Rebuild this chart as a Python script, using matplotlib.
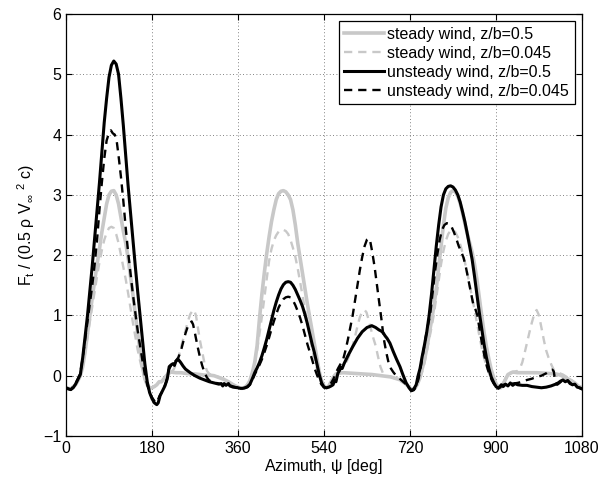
import matplotlib
matplotlib.use("Agg")
import matplotlib.pyplot as plt

plt.rcParams['font.family'] = ['Liberation Sans', 'DejaVu Sans']
plt.rcParams['mathtext.fontset'] = 'custom'
plt.rcParams['mathtext.rm'] = 'Liberation Sans'
plt.rcParams['mathtext.it'] = 'Liberation Sans'

# ---------------- data: (azimuth [deg], F_t normalised) ----------------
steady_05 = [
    (0, -0.20), (10, -0.22), (20, -0.15), (25, -0.08), (30, 0.00), (35, 0.15), (40, 0.40), (45, 0.70),
    (50, 1.00), (55, 1.30), (60, 1.58), (65, 1.85), (70, 2.10), (75, 2.38), (80, 2.62), (85, 2.85),
    (90, 3.00), (95, 3.06), (100, 3.07), (105, 3.00), (110, 2.85), (115, 2.62), (120, 2.40), (125, 2.20),
    (130, 1.95), (135, 1.65), (140, 1.35), (145, 1.02), (150, 0.70), (155, 0.42), (160, 0.15), (165, -0.05),
    (170, -0.15), (175, -0.20), (180, -0.20), (185, -0.18), (190, -0.15), (195, -0.10), (200, -0.10),
    (205, -0.05), (210, 0.00), (215, 0.04), (220, 0.06), (230, 0.05), (240, 0.05), (250, 0.04), (260, 0.03),
    (270, 0.03), (280, 0.02), (290, 0.01), (300, 0.01), (310, 0.00), (320, -0.03), (330, -0.06),
    (340, -0.10), (350, -0.15), (360, -0.19), (368, -0.21), (375, -0.19), (380, -0.15), (385, -0.08),
    (390, 0.05), (395, 0.22), (400, 0.50), (405, 0.95), (410, 1.35), (415, 1.70), (420, 2.02), (425, 2.30),
    (430, 2.55), (435, 2.75), (440, 2.92), (445, 3.02), (450, 3.06), (455, 3.07), (460, 3.05), (465, 3.00),
    (470, 2.92), (475, 2.75), (480, 2.50), (485, 2.20), (490, 1.95), (495, 1.70), (500, 1.45), (505, 1.20),
    (510, 0.98), (515, 0.75), (520, 0.52), (525, 0.30), (530, 0.07), (535, -0.08), (540, -0.17),
    (545, -0.20), (550, -0.17), (555, -0.10), (560, -0.02), (565, 0.03), (570, 0.04), (580, 0.05),
    (600, 0.04), (620, 0.03), (640, 0.02), (660, 0.00), (680, -0.02), (700, -0.07), (710, -0.12),
    (718, -0.19), (724, -0.23), (730, -0.21), (735, -0.15), (740, -0.05), (745, 0.10), (750, 0.25),
    (755, 0.45), (760, 0.68), (765, 0.90), (770, 1.15), (775, 1.45), (780, 1.80), (785, 2.15), (790, 2.50),
    (795, 2.78), (800, 2.95), (805, 3.04), (810, 3.07), (815, 3.05), (820, 2.98), (825, 2.86), (830, 2.70),
    (835, 2.52), (840, 2.35), (845, 2.20), (850, 2.05), (855, 1.85), (860, 1.60), (865, 1.30), (870, 1.00),
    (875, 0.72), (880, 0.48), (885, 0.28), (890, 0.10), (895, -0.03), (900, -0.13), (905, -0.19),
    (910, -0.20), (915, -0.14), (920, -0.06), (925, 0.02), (935, 0.06), (945, 0.05), (965, 0.05),
    (985, 0.05), (1005, 0.04), (1025, 0.03), (1035, 0.01), (1045, -0.03), (1055, -0.07), (1065, -0.12),
    (1072, -0.17), (1080, -0.20)]

steady_045 = [
    (0, -0.20), (10, -0.22), (20, -0.15), (25, -0.08), (30, 0.00), (35, 0.15), (40, 0.38), (45, 0.65),
    (50, 0.90), (55, 1.15), (60, 1.40), (65, 1.65), (70, 1.88), (75, 2.08), (80, 2.25), (85, 2.37),
    (90, 2.45), (95, 2.47), (100, 2.45), (105, 2.35), (110, 2.20), (115, 2.00), (120, 1.80), (125, 1.60),
    (130, 1.37), (135, 1.12), (140, 0.88), (145, 0.65), (150, 0.43), (155, 0.25), (160, 0.08), (165, -0.05),
    (170, -0.14), (175, -0.19), (180, -0.20), (185, -0.18), (190, -0.15), (195, -0.12), (200, -0.10),
    (205, -0.05), (210, 0.00), (215, 0.04), (220, 0.06), (225, 0.10), (230, 0.18), (235, 0.30), (240, 0.45),
    (245, 0.60), (250, 0.75), (255, 0.90), (260, 1.02), (265, 1.08), (268, 1.09), (272, 1.00), (276, 0.80),
    (280, 0.60), (285, 0.40), (290, 0.20), (295, 0.08), (300, 0.03), (310, 0.00), (320, -0.02),
    (330, -0.05), (340, -0.10), (350, -0.15), (360, -0.19), (368, -0.21), (375, -0.19), (380, -0.14),
    (385, -0.06), (390, 0.05), (395, 0.20), (400, 0.42), (405, 0.70), (410, 0.98), (415, 1.28), (420, 1.60),
    (425, 1.90), (430, 2.10), (435, 2.24), (440, 2.33), (445, 2.39), (450, 2.42), (455, 2.42), (460, 2.40),
    (465, 2.35), (470, 2.25), (475, 2.12), (480, 1.97), (485, 1.78), (490, 1.56), (495, 1.33), (500, 1.10),
    (505, 0.88), (510, 0.66), (515, 0.46), (520, 0.28), (525, 0.12), (530, 0.00), (535, -0.10),
    (540, -0.17), (545, -0.20), (550, -0.16), (555, -0.09), (560, -0.02), (565, 0.04), (570, 0.07),
    (575, 0.10), (580, 0.14), (585, 0.20), (590, 0.28), (595, 0.38), (600, 0.50), (605, 0.65), (610, 0.82),
    (615, 0.97), (620, 1.06), (625, 1.09), (629, 1.05), (633, 0.94), (638, 0.78), (643, 0.63), (648, 0.50),
    (653, 0.32), (658, 0.15), (663, 0.05), (670, 0.00), (680, -0.02), (690, -0.05), (700, -0.09),
    (710, -0.14), (718, -0.20), (724, -0.23), (730, -0.20), (735, -0.14), (740, -0.06), (745, 0.05),
    (750, 0.20), (755, 0.40), (760, 0.60), (765, 0.80), (770, 1.02), (775, 1.30), (780, 1.58), (785, 1.85),
    (790, 2.07), (795, 2.24), (800, 2.35), (805, 2.41), (810, 2.42), (815, 2.38), (820, 2.30), (825, 2.18),
    (830, 2.04), (835, 1.88), (840, 1.70), (845, 1.50), (850, 1.30), (855, 1.10), (860, 0.88), (865, 0.67),
    (870, 0.47), (875, 0.30), (880, 0.16), (885, 0.05), (890, -0.05), (895, -0.12), (900, -0.17),
    (905, -0.20), (910, -0.19), (915, -0.12), (920, -0.04), (925, 0.02), (930, 0.05), (935, 0.06),
    (940, 0.07), (945, 0.08), (950, 0.12), (955, 0.22), (960, 0.38), (965, 0.55), (970, 0.72), (975, 0.88),
    (980, 1.02), (985, 1.09), (989, 1.02), (993, 0.88), (997, 0.72), (1001, 0.56), (1005, 0.42),
    (1010, 0.30), (1016, 0.18), (1022, 0.08), (1030, 0.05), (1040, 0.02), (1050, -0.03), (1060, -0.09),
    (1070, -0.15), (1080, -0.20)]

unsteady_05 = [
    (0, -0.20), (5, -0.22), (10, -0.23), (15, -0.20), (20, -0.14), (25, -0.06), (30, 0.02), (35, 0.30),
    (40, 0.65), (45, 1.00), (50, 1.42), (55, 1.83), (60, 2.28), (65, 2.72), (70, 3.20), (75, 3.70),
    (80, 4.20), (85, 4.60), (90, 4.95), (95, 5.15), (100, 5.22), (105, 5.17), (110, 5.00), (115, 4.60),
    (120, 4.15), (125, 3.65), (130, 3.15), (135, 2.70), (140, 2.25), (145, 1.82), (150, 1.40), (155, 1.00),
    (160, 0.60), (165, 0.20), (170, -0.10), (175, -0.28), (180, -0.38), (185, -0.45), (190, -0.48),
    (193, -0.45), (197, -0.33), (202, -0.25), (207, -0.17), (212, -0.05), (216, 0.15), (220, 0.18),
    (224, 0.20), (227, 0.17), (230, 0.24), (235, 0.27), (240, 0.22), (245, 0.16), (250, 0.11), (260, 0.05),
    (270, 0.00), (280, -0.04), (290, -0.07), (300, -0.10), (310, -0.12), (320, -0.14), (325, -0.13),
    (328, -0.17), (331, -0.13), (335, -0.16), (340, -0.13), (343, -0.17), (350, -0.19), (360, -0.20),
    (365, -0.21), (370, -0.21), (375, -0.20), (380, -0.18), (385, -0.14), (390, -0.05), (395, 0.05),
    (400, 0.13), (405, 0.22), (410, 0.33), (415, 0.46), (420, 0.60), (425, 0.76), (430, 0.92), (435, 1.08),
    (440, 1.22), (445, 1.34), (450, 1.44), (455, 1.51), (460, 1.55), (465, 1.56), (470, 1.55), (475, 1.50),
    (480, 1.43), (485, 1.34), (490, 1.25), (495, 1.15), (500, 1.02), (505, 0.87), (510, 0.70), (515, 0.53),
    (520, 0.38), (525, 0.20), (530, 0.02), (535, -0.12), (540, -0.19), (545, -0.20), (550, -0.19),
    (555, -0.17), (559, -0.15), (562, -0.08), (565, -0.10), (569, 0.04), (572, 0.08), (575, 0.14),
    (578, 0.12), (582, 0.20), (590, 0.33), (600, 0.48), (610, 0.62), (620, 0.73), (630, 0.80), (640, 0.83),
    (648, 0.80), (655, 0.76), (660, 0.74), (664, 0.71), (668, 0.66), (672, 0.62), (678, 0.54), (685, 0.40),
    (692, 0.27), (699, 0.15), (705, 0.02), (712, -0.12), (718, -0.20), (723, -0.25), (728, -0.22),
    (733, -0.15), (737, 0.00), (741, 0.12), (745, 0.30), (750, 0.50), (755, 0.72), (760, 1.00), (765, 1.35),
    (770, 1.75), (775, 2.15), (780, 2.50), (785, 2.80), (790, 3.00), (795, 3.10), (800, 3.14), (805, 3.15),
    (810, 3.13), (815, 3.08), (820, 3.00), (825, 2.88), (830, 2.72), (835, 2.55), (840, 2.35), (845, 2.14),
    (850, 1.93), (855, 1.65), (860, 1.35), (865, 1.05), (870, 0.78), (875, 0.52), (880, 0.30), (885, 0.12),
    (890, -0.02), (895, -0.11), (900, -0.18), (905, -0.21), (908, -0.18), (911, -0.15), (915, -0.18),
    (920, -0.14), (925, -0.17), (930, -0.12), (935, -0.16), (940, -0.13), (945, -0.15), (955, -0.16),
    (965, -0.16), (975, -0.18), (985, -0.19), (995, -0.20), (1005, -0.19), (1015, -0.17), (1025, -0.14),
    (1030, -0.12), (1035, -0.09), (1040, -0.07), (1045, -0.10), (1050, -0.08), (1055, -0.13),
    (1060, -0.15), (1065, -0.14), (1070, -0.19), (1075, -0.20), (1080, -0.22)]

unsteady_045 = [
    (0, -0.20), (10, -0.23), (20, -0.13), (25, -0.05), (30, 0.05), (35, 0.30), (40, 0.60), (45, 0.90),
    (50, 1.20), (55, 1.50), (60, 1.85), (65, 2.25), (70, 2.75), (75, 3.20), (80, 3.60), (85, 3.90),
    (90, 4.03), (94, 4.07), (98, 4.02), (102, 4.00), (106, 3.90), (110, 3.65), (115, 3.30), (120, 2.90),
    (125, 2.45), (130, 2.05), (135, 1.70), (140, 1.35), (145, 1.05), (150, 0.75), (155, 0.50), (160, 0.25),
    (165, 0.02), (170, -0.15), (175, -0.28), (180, -0.36), (185, -0.42), (190, -0.45), (195, -0.35),
    (200, -0.28), (205, -0.20), (210, -0.10), (215, 0.10), (220, 0.17), (225, 0.20), (230, 0.25),
    (235, 0.30), (240, 0.40), (245, 0.55), (250, 0.70), (255, 0.82), (260, 0.88), (263, 0.90), (266, 0.85),
    (270, 0.70), (275, 0.50), (280, 0.32), (285, 0.17), (290, 0.05), (295, -0.03), (300, -0.08),
    (310, -0.11), (320, -0.13), (330, -0.15), (340, -0.15), (350, -0.18), (360, -0.20), (370, -0.21),
    (380, -0.19), (385, -0.15), (390, -0.07), (395, 0.02), (400, 0.10), (405, 0.18), (410, 0.27),
    (415, 0.38), (420, 0.50), (425, 0.63), (430, 0.77), (435, 0.90), (440, 1.02), (445, 1.13), (450, 1.21),
    (455, 1.27), (460, 1.30), (465, 1.31), (470, 1.30), (475, 1.25), (480, 1.17), (485, 1.07), (490, 0.96),
    (495, 0.83), (500, 0.68), (505, 0.53), (510, 0.40), (515, 0.27), (520, 0.13), (525, 0.02), (530, -0.08),
    (535, -0.15), (540, -0.19), (545, -0.20), (550, -0.17), (555, -0.12), (560, -0.05), (565, 0.05),
    (570, 0.13), (575, 0.20), (580, 0.27), (585, 0.42), (590, 0.60), (595, 0.80), (600, 1.00), (605, 1.25),
    (610, 1.50), (615, 1.75), (620, 1.97), (625, 2.15), (630, 2.26), (633, 2.28), (637, 2.22), (641, 2.05),
    (646, 1.80), (650, 1.55), (655, 1.25), (660, 0.95), (665, 0.62), (670, 0.40), (675, 0.22), (680, 0.12),
    (685, 0.06), (690, 0.01), (700, -0.06), (710, -0.13), (718, -0.20), (723, -0.25), (728, -0.24),
    (733, -0.18), (738, -0.05), (742, 0.12), (747, 0.35), (752, 0.60), (757, 0.82), (762, 1.00), (767, 1.35),
    (772, 1.70), (777, 2.00), (782, 2.25), (787, 2.42), (792, 2.50), (797, 2.53), (802, 2.52), (807, 2.47),
    (812, 2.38), (817, 2.27), (822, 2.15), (827, 2.06), (832, 1.96), (837, 1.80), (842, 1.60), (847, 1.40),
    (852, 1.20), (857, 1.10), (861, 1.00), (866, 0.75), (871, 0.52), (876, 0.32), (881, 0.15), (886, 0.03),
    (891, -0.07), (896, -0.14), (901, -0.19), (906, -0.21), (915, -0.15), (925, -0.14), (935, -0.13),
    (945, -0.12), (955, -0.10), (965, -0.07), (975, -0.05), (985, -0.02), (995, 0.00), (1005, 0.04),
    (1012, 0.08), (1018, 0.10), (1021, 0.07), (1024, -0.10), (1028, -0.15), (1033, -0.12), (1040, -0.07),
    (1050, -0.08), (1060, -0.15), (1070, -0.19), (1080, -0.22)]

x_ticks = [0, 180, 360, 540, 720, 900, 1080]
y_ticks = [-1, 0, 1, 2, 3, 4, 5, 6]
labels = ['steady wind, z/b=0.5', 'steady wind, z/b=0.045',
          'unsteady wind, z/b=0.5', 'unsteady wind, z/b=0.045']

# ---------------- figure ----------------
fig = plt.figure(figsize=(6.14, 4.79), dpi=100)
ax = fig.add_axes([66/614, 1 - 436/479, (582-66)/614, (436-14)/479])

grey = '#c8c8c8'
dash = (0, (3.5, 2.5))
series = [(steady_05, dict(color=grey, lw=2.6)),
          (steady_045, dict(color=grey, lw=1.7, ls=dash)),
          (unsteady_05, dict(color='black', lw=2.2)),
          (unsteady_045, dict(color='black', lw=1.7, ls=dash))]
for (data, style), lab in zip(series, labels):
    az, f = zip(*data)
    ax.plot(az, f, solid_joinstyle='round', label=lab, **style)

ax.set_xlim(0, 1080)
ax.set_ylim(-1, 6)
ax.set_xticks(x_ticks)
ax.set_yticks(y_ticks)
ax.tick_params(direction='in', top=True, right=True, labelsize=11.5, length=4, width=0.8)
ax.grid(True, color='0.35', ls=(0, (1, 3)), lw=0.6)
for s in ax.spines.values():
    s.set_linewidth(0.9)

ax.set_xlabel(r'Azimuth, $\mathregular{\psi}$ [deg]', fontsize=11.5, labelpad=1)
ax.set_ylabel(r'F$_{\mathregular{t}}$ / (0.5 $\mathregular{\rho}$ V$_{\mathregular{\infty}}$ $^{\mathregular{2}}$ c)',
              fontsize=11.5, labelpad=4)

leg = ax.legend(loc='upper right', fontsize=11.5, handlelength=2.5, handletextpad=0.2,
                labelspacing=0.25, borderpad=0.35, borderaxespad=0.45, frameon=True,
                fancybox=False, framealpha=1)
leg.get_frame().set_edgecolor('black')
leg.get_frame().set_linewidth(0.9)

fig.savefig('out.png', dpi=100)
